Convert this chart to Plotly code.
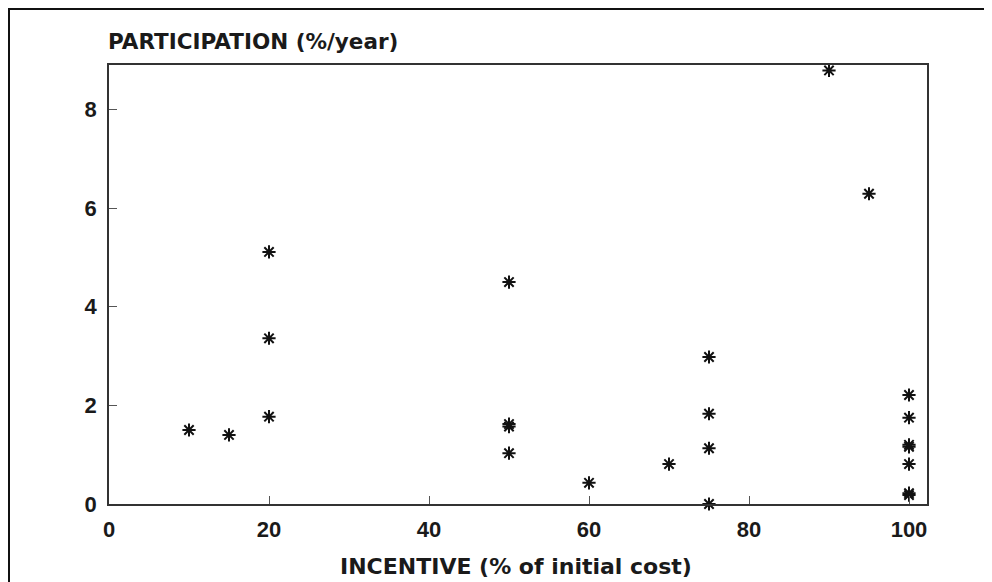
import plotly.graph_objects as go

# Data
incentive = [10, 15, 20, 20, 20, 50, 50, 50, 50, 60, 70, 75, 75, 75, 75,
             90, 95, 100, 100, 100, 100, 100, 100, 100]
participation = [1.50, 1.40, 1.77, 3.36, 5.11, 4.50, 1.57, 1.62, 1.03, 0.43, 0.81,
                 2.98, 1.83, 1.13, 0.0, 8.79, 6.29, 2.21, 1.75, 1.16, 1.20, 0.81,
                 0.18, 0.22]
x_ticks = [0, 20, 40, 60, 80, 100]
y_ticks = [0, 2, 4, 6, 8]
x_title = "INCENTIVE (% of initial cost)"
y_title = "PARTICIPATION (%/year)"

# The page body adds an 8px offset; lay out in reference pixels minus 8.
OFF = 8
W, H = 992 - OFF, 582 - OFF
L, R, T, B = 109 - OFF, 927 - OFF, 65 - OFF, 504 - OFF

def px_x(p):
    return (p - OFF - L) / (R - L)

def px_y(p):
    return (B - (p - OFF)) / (B - T)

fig = go.Figure()
fig.add_trace(go.Scatter(
    x=incentive, y=participation, mode="markers",
    marker=dict(symbol="asterisk-open", size=11, color="#111",
                line=dict(color="#111", width=2)),
    showlegend=False, cliponaxis=False,
))

tickfont = dict(family="Liberation Sans", size=22, color="#1a1a1a", weight="bold")
axis_common = dict(showgrid=False, zeroline=False, showline=True, mirror=True,
                   linecolor="#333", linewidth=1.5, ticks="inside", ticklen=8,
                   tickwidth=1.2, tickcolor="#555", tickfont=tickfont)

fig.update_xaxes(range=[0, 102.25], tickvals=x_ticks, ticklabelstandoff=5, **axis_common)
fig.update_yaxes(range=[0, 8.9], tickvals=y_ticks, ticklabelstandoff=6, **axis_common)

titlefont = dict(family="DejaVu Sans", size=22, color="#1a1a1a", weight="bold")
fig.add_annotation(text=x_title, xref="paper", yref="paper",
                   x=px_x(516), y=px_y(566), xanchor="center", yanchor="middle",
                   showarrow=False, font=titlefont)
fig.add_annotation(text=y_title, xref="paper", yref="paper",
                   x=px_x(106), y=px_y(42), xanchor="left", yanchor="middle",
                   showarrow=False, font=dict(titlefont, size=21.5))

# outer frame (left and top edges visible)
fig.add_shape(type="rect", xref="paper", yref="paper",
              x0=px_x(9), y0=px_y(620), x1=px_x(1020), y1=px_y(9),
              line=dict(color="#111", width=2), fillcolor="rgba(0,0,0,0)", layer="below")

fig.update_layout(width=W, height=H,
                  margin=dict(l=L, r=W - R, t=T, b=H - B, pad=0),
                  plot_bgcolor="white", paper_bgcolor="white")

fig.write_html("out.html")
